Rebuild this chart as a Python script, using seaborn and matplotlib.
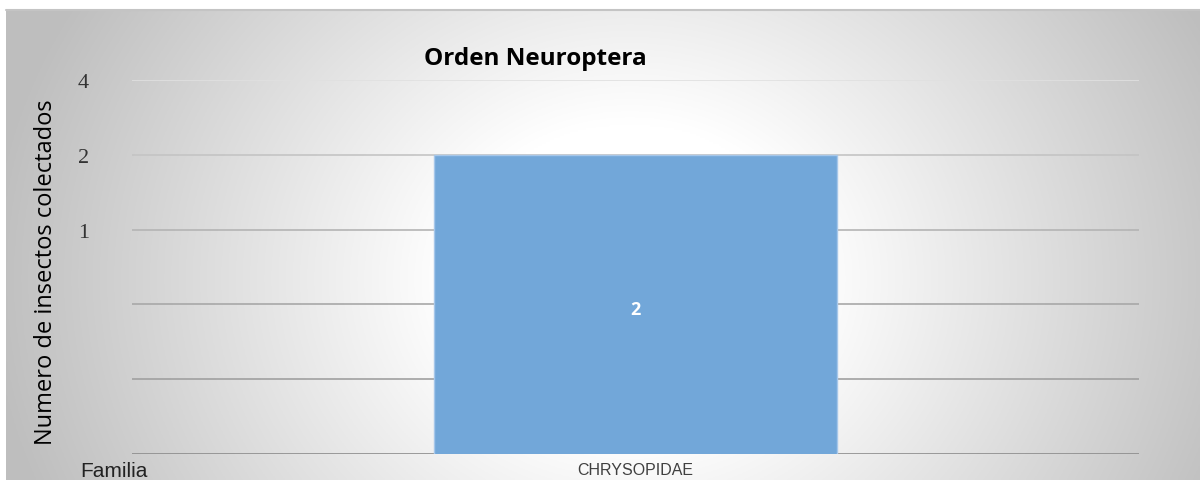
import numpy as np
import pandas as pd
import seaborn as sns
import matplotlib.pyplot as plt

# data
familias = ["CHRYSOPIDAE"]
conteos = [2]
ytick_vals = [0.125, 0.25, 0.5, 1, 2, 4]
ytick_labels = ["", "", "", "1", "2", "4"]

df = pd.DataFrame({"familia": familias, "n": conteos})

sns.set_style("white")
plt.rcParams["font.family"] = ["Open Sans", "DejaVu Sans"]

W, H = 1200, 481
fig = plt.figure(figsize=(W / 100, H / 100), dpi=100)
fig.patch.set_facecolor("white")

# radial gradient background
bg = fig.add_axes([6 / W, 0, 1 - 6 / W, (H - 11) / H], zorder=-2)
xx, yy = np.meshgrid(np.linspace(6, W, 600), np.linspace(11, H, 240))
r = np.sqrt(((xx - 630) / 600) ** 2 + ((yy - 280) / 520) ** 2)
shade = 1 - 0.23 * np.clip((r - 0.3) / 0.7, 0, 1.1)
bg.imshow(np.dstack([shade] * 3), aspect="auto", extent=[0, 1, 0, 1])
bg.axis("off")
fig.add_artist(plt.Line2D([6 / W, 1], [(H - 10.5) / H] * 2, color="#c4c4c4", lw=1.5))

ax = fig.add_axes([132 / W, (H - 455) / H, (1139 - 132) / W, (455 - 81) / H])
ax.set_facecolor("none")

sns.barplot(data=df, x="familia", y="n", color="#72a7d9", width=0.4,
            edgecolor="#a6c7ea", linewidth=1, saturation=1, ax=ax, zorder=3)
ax.set_yscale("log", base=2)
ax.set_ylim(0.125, 4)
ax.set_xlim(-0.5, 0.5)
ax.set_yticks(ytick_vals)
ax.set_yticklabels(ytick_labels, family="Liberation Serif", fontsize=16, color="#333333")
ax.minorticks_off()
ax.tick_params(axis="y", length=0, pad=31)
ax.tick_params(axis="x", length=0, pad=6)
for lab in ax.get_xticklabels():
    lab.set_family("Liberation Sans")
    lab.set_fontsize(11.5)
    lab.set_color("#404040")

ax.grid(axis="y", zorder=0)
grid_colors = ["#8c8c8c", "#a0a0a0", "#a8a8a8", "#b4b4b4", "#c4c4c4", "#e0e0e0"]
for gl, c in zip(ax.get_ygridlines(), grid_colors):
    gl.set_color(c)
    gl.set_linewidth(1.2)
for s in ax.spines.values():
    s.set_visible(False)

for p, v in zip(ax.patches, conteos):
    ax.text(p.get_x() + p.get_width() / 2, np.sqrt(0.125 * v) * 0.96, str(v),
            ha="center", va="center", color="white", fontsize=13,
            fontweight="bold", zorder=4)

ax.set_xlabel("")
ax.set_ylabel("Numero de insectos colectados", fontsize=17, color="black")
ax.yaxis.set_label_coords(-0.073, 0.49)
fig.text(535 / W, 1 - 59 / H, "Orden Neuroptera", ha="center", va="center",
         fontsize=17.5, fontweight="bold", color="black")
fig.text(80 / W, 1 - 472 / H, "Familia", ha="left", va="center",
         family="Liberation Sans", fontsize=15, color="#222222")

fig.savefig("out.png", dpi=100)
